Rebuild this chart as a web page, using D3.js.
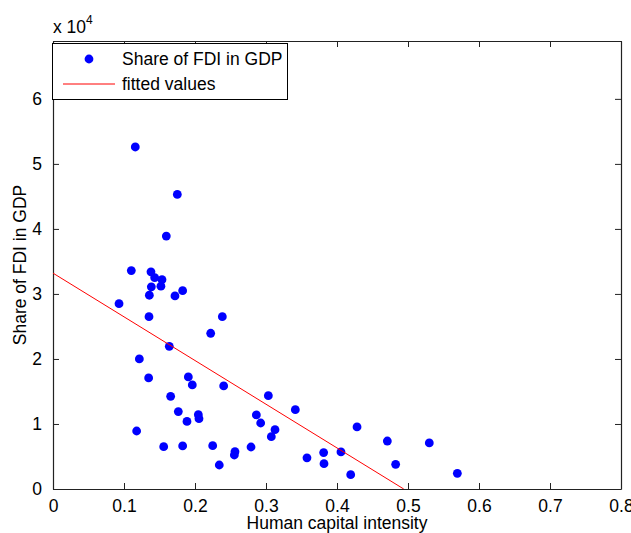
<!DOCTYPE html>
<html><head><meta charset="utf-8">
<script src="https://cdn.jsdelivr.net/npm/d3@7"></script>
<style>body{margin:0;background:#fff}svg{display:block}text{font-family:"Liberation Sans",Arial,sans-serif;fill:#000}</style>
</head><body>
<svg id="c" width="631" height="533"></svg>
<script>
// Human capital intensity (x) vs Share of FDI in GDP (y)
const humanCapital = [0.1159,0.1751,0.1596,0.1103,0.138,0.1432,0.1535,0.1385,0.152,0.1357,0.1718,0.1826,0.093,0.1352,0.2385,0.2221,0.1638,0.1216,0.1347,0.1906,0.1962,0.2404,0.1657,0.3033,0.1765,0.2047,0.2056,0.1887,0.3413,0.2864,0.2925,0.3127,0.3075,0.4282,0.1178,0.1559,0.1826,0.2249,0.2563,0.2554,0.2789,0.2342,0.3577,0.3812,0.4056,0.3817,0.4193,0.4709,0.53,0.4826,0.5695];
const fdiShare = [52600,45300,38900,33600,33400,32500,32200,31100,31200,29800,29700,30500,28500,26500,26500,23950,21950,20000,17080,17230,16000,15850,14260,14350,11900,11430,10820,10400,12200,11400,10150,9130,8050,9540,8920,6510,6620,6670,5740,5230,6460,3690,4800,5600,5700,3900,2200,7380,7080,3800,2410];
const fitX = [0, 0.494];
const fitY = [33200, 0];
const xTicks = [0,0.1,0.2,0.3,0.4,0.5,0.6,0.7,0.8];
const yTicks = [0,10000,20000,30000,40000,50000,60000];
const legendLabels = ["Share of FDI in GDP","fitted values"];

const svg = d3.select("#c");
const L=53,R=621,T=41,B=489;
const x = d3.scaleLinear().domain([0,0.8]).range([L,R]);
const y = d3.scaleLinear().domain([0,68900]).range([B,T]);
const FS = "17.5px";

svg.append("clipPath").attr("id","clip").append("rect").attr("x",L).attr("y",T).attr("width",R-L).attr("height",B-T);

const xa = svg.append("g").attr("transform",`translate(0,${B})`)
  .call(d3.axisBottom(x).tickValues(xTicks).tickSizeInner(-6).tickSizeOuter(0).tickFormat(d=>d===0?"0":d3.format(".1f")(d)));
const xt = svg.append("g").attr("transform",`translate(0,${T})`)
  .call(d3.axisTop(x).tickValues(xTicks).tickSizeInner(-6).tickSizeOuter(0).tickFormat(""));
const ya = svg.append("g").attr("transform",`translate(${L},0)`)
  .call(d3.axisLeft(y).tickValues(yTicks).tickSizeInner(-6).tickSizeOuter(0).tickPadding(11).tickFormat(d=>d/10000));
const yr = svg.append("g").attr("transform",`translate(${R},0)`)
  .call(d3.axisRight(y).tickValues(yTicks).tickSizeInner(-6).tickSizeOuter(0).tickFormat(""));
[xa,xt,ya,yr].forEach(g=>{
  g.selectAll("path.domain").attr("stroke","#222").attr("stroke-width",1.2);
  g.selectAll(".tick line").attr("stroke","#222");
  g.selectAll("text").style("font-size",FS).style("font-family",'"Liberation Sans",Arial,sans-serif').attr("fill","#000");
});
xa.selectAll("text").attr("dy",null).attr("y",23);

const ex = svg.append("text").attr("x",53).attr("y",33).style("font-size",FS);
ex.append("tspan").text("x 10");
ex.append("tspan").attr("dy",-9).style("font-size","12px").text("4");

svg.append("text").attr("x",(L+R)/2).attr("y",529).attr("text-anchor","middle").style("font-size",FS).text("Human capital intensity");
svg.append("text").attr("transform",`translate(26,${(T+B)/2}) rotate(-90)`).attr("text-anchor","middle").style("font-size",FS).text("Share of FDI in GDP");

const pts = humanCapital.map((v,i)=>({x:v,y:fdiShare[i]}));
svg.append("g").attr("clip-path","url(#clip)").selectAll("circle").data(pts).join("circle")
  .attr("cx",d=>x(d.x)).attr("cy",d=>y(d.y)).attr("r",4.4).attr("fill","#0000ff");

const fit = fitX.map((v,i)=>({x:v,y:fitY[i]}));
svg.append("path").datum(fit).attr("clip-path","url(#clip)")
  .attr("d",d3.line().x(d=>x(d.x)).y(d=>y(d.y))).attr("fill","none").attr("stroke","#ff0000").attr("stroke-width",1);

const lg = svg.append("g");
lg.append("rect").attr("x",52.5).attr("y",43.5).attr("width",235).attr("height",56).attr("fill","#fff").attr("stroke","#000").attr("stroke-width",1);
lg.append("circle").attr("cx",89).attr("cy",59).attr("r",4.4).attr("fill","#0000ff");
lg.append("line").attr("x1",63).attr("x2",115).attr("y1",84).attr("y2",84).attr("stroke","#ff0000").attr("stroke-width",1);
lg.selectAll("text.lt").data(legendLabels).join("text").attr("class","lt")
  .attr("x",122).attr("y",(d,i)=>59+25*i).attr("dy","0.35em").style("font-size",FS).text(d=>d);
</script>
</body></html>
